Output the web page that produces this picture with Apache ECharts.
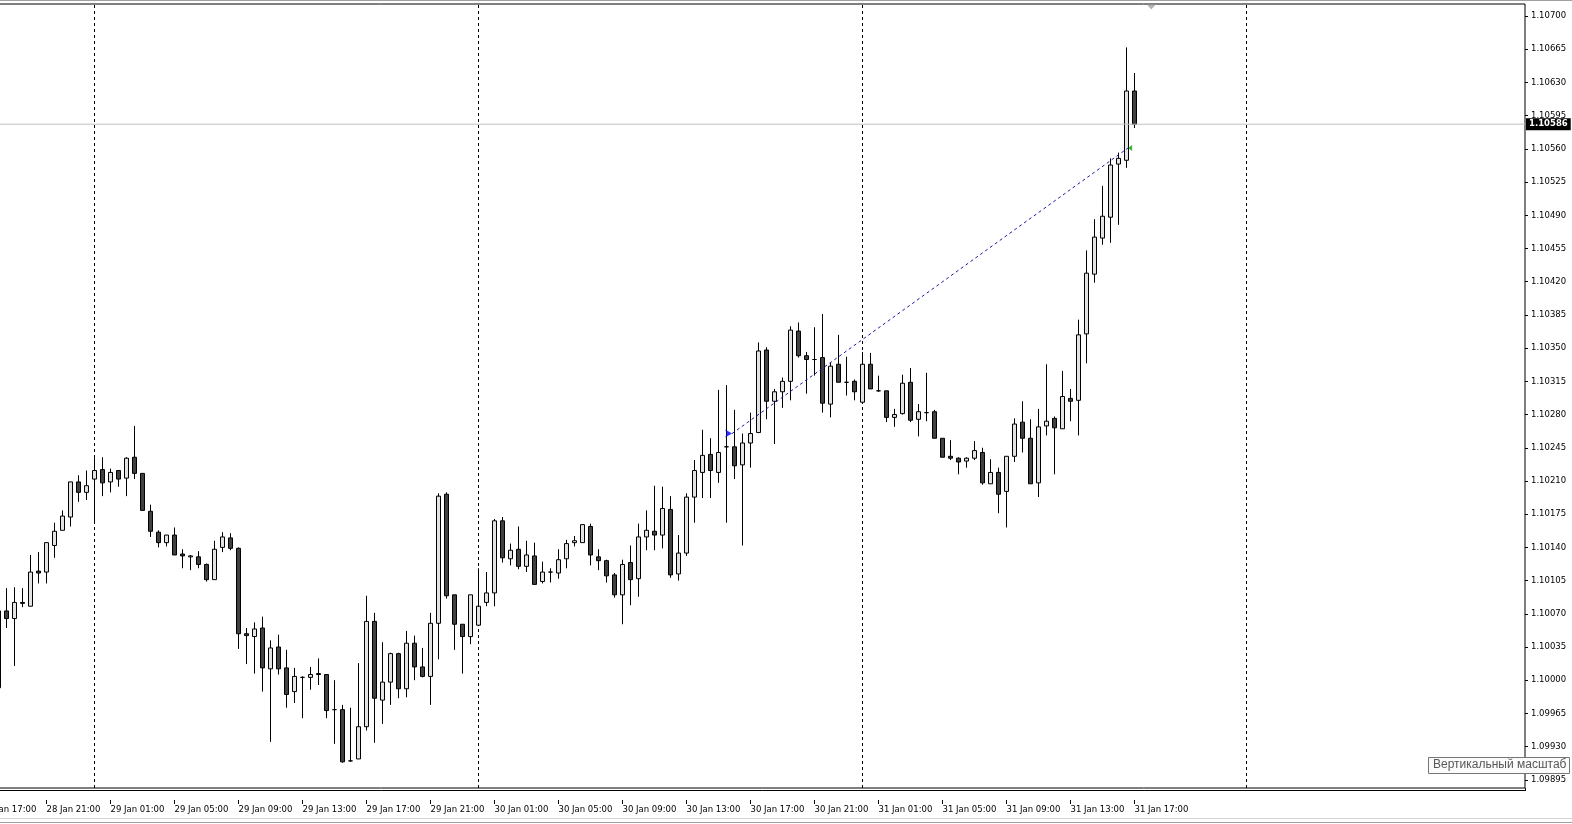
<!DOCTYPE html>
<html><head><meta charset="utf-8">
<script src="https://cdn.jsdelivr.net/npm/echarts@6/dist/echarts.min.js"></script>
<style>html,body{margin:0;padding:0;background:#fff;}#c{width:1572px;height:824px;}</style>
</head><body><div id="c"></div>
<script>
// Bars are M30; bar number 0 = 29 Jan 00:00, first visible bar = 28 Jan 18:00
const firstBar = -12;
const opens = [1.09992,1.10073,1.10065,1.10082,1.10078,1.10115,1.10114,1.10142,1.10158,1.10172,1.10209,1.10198,
1.10212,1.10222,1.10209,1.10221,1.10213,1.10235,1.10218,1.10178,1.10156,1.10145,1.10153,1.10133,1.10130,1.10130,1.10122,1.10106,1.10140,1.10150,1.10139,1.10049,
1.10046,1.10055,1.10012,1.10035,1.10013,1.09988,1.10003,1.10003,1.10007,1.10006,1.09969,1.09969,1.09915,1.09917,1.09951,1.10062,
1.09979,1.09998,1.10028,1.09991,1.10039,1.10014,1.10004,1.10060,1.10196,1.10090,1.10059,1.10046,1.10058,1.10082,1.10092,1.10168,
1.10128,1.10138,1.10120,1.10131,1.10104,1.10114,1.10113,1.10128,1.10145,1.10145,1.10162,1.10130,1.10126,1.10111,1.10090,1.10124,
1.10107,1.10151,1.10157,1.10153,1.10180,1.10112,1.10134,1.10193,1.10219,1.10238,1.10219,1.10246,1.10246,1.10227,1.10250,1.10261,
1.10348,1.10294,1.10304,1.10315,1.10368,1.10342,1.10338,1.10340,1.10291,1.10333,1.10314,1.10315,1.10293,1.10333,1.10305,1.10305,
1.10277,1.10281,1.10314,1.10275,1.10282,1.10283,1.10255,1.10236,1.10234,1.10231,1.10234,1.10240,1.10207,1.10219,1.10199,1.10236,
1.10272,1.10255,1.10208,1.10268,1.10276,1.10265,1.10297,1.10295,1.10365,1.10428,1.10466,1.10488,1.10544,1.10548,1.10621];
const closes = [1.10073,1.10065,1.10082,1.10081,1.10114,1.10113,1.10145,1.10157,1.10173,1.10209,1.10198,1.10205,
1.10221,1.10208,1.10219,1.10212,1.10234,1.10218,1.10179,1.10157,1.10145,1.10153,1.10132,1.10131,1.10131,1.10122,1.10106,1.10138,1.10151,1.10139,1.10049,1.10047,
1.10054,1.10013,1.10034,1.10012,1.09985,1.10004,1.10003,1.10006,1.10006,1.09968,1.09969,1.09914,1.09915,1.09951,1.10062,1.09981,
1.09998,1.10028,1.09991,1.10039,1.10014,1.10004,1.10060,1.10194,1.10089,1.10059,1.10046,1.10090,1.10078,1.10092,1.10168,1.10129,
1.10137,1.10120,1.10132,1.10101,1.10114,1.10114,1.10127,1.10144,1.10147,1.10164,1.10132,1.10126,1.10110,1.10090,1.10122,1.10106,
1.10151,1.10158,1.10153,1.10181,1.10111,1.10134,1.10193,1.10221,1.10237,1.10221,1.10240,1.10246,1.10226,1.10250,1.10260,1.10347,
1.10294,1.10304,1.10315,1.10369,1.10342,1.10338,1.10338,1.10292,1.10331,1.10314,1.10314,1.10304,1.10333,1.10307,1.10305,1.10277,
1.10280,1.10313,1.10274,1.10283,1.10282,1.10255,1.10235,1.10234,1.10230,1.10234,1.10242,1.10208,1.10219,1.10196,1.10236,1.10270,
1.10255,1.10207,1.10267,1.10273,1.10266,1.10299,1.10294,1.10364,1.10429,1.10467,1.10489,1.10543,1.10550,1.10621,1.10586];
const lows = [1.09990,1.10055,1.10015,1.10077,1.10078,1.10102,1.10102,1.10129,1.10158,1.10162,1.10188,1.10190,
1.10167,1.10194,1.10198,1.10204,1.10194,1.10212,1.10179,1.10151,1.10140,1.10141,1.10132,1.10118,1.10116,1.10118,1.10104,1.10106,1.10135,1.10137,1.10033,1.10017,
1.10007,1.09988,1.09935,1.10006,1.09971,1.09976,1.09960,1.09990,1.09995,1.09960,1.09933,1.09913,1.09914,1.09917,1.09947,1.09934,
1.09954,1.09974,1.09981,1.09982,1.10000,1.10003,1.09974,1.10022,1.10086,1.10032,1.10007,1.10038,1.10057,1.10078,1.10078,1.10124,
1.10121,1.10117,1.10114,1.10101,1.10102,1.10103,1.10107,1.10118,1.10141,1.10145,1.10121,1.10116,1.10103,1.10087,1.10059,1.10079,
1.10088,1.10137,1.10137,1.10139,1.10108,1.10105,1.10131,1.10166,1.10192,1.10192,1.10208,1.10166,1.10212,1.10142,1.10224,1.10261,
1.10275,1.10249,1.10287,1.10295,1.10340,1.10302,1.10321,1.10282,1.10277,1.10314,1.10300,1.10295,1.10293,1.10307,1.10304,1.10272,
1.10267,1.10280,1.10272,1.10257,1.10273,1.10255,1.10235,1.10232,1.10217,1.10224,1.10232,1.10206,1.10207,1.10176,1.10161,1.10230,
1.10240,1.10207,1.10193,1.10258,1.10217,1.10265,1.10273,1.10258,1.10334,1.10419,1.10459,1.10461,1.10480,1.10540,1.10582];
const highs = [1.10079,1.10097,1.10098,1.10097,1.10132,1.10135,1.10145,1.10166,1.10179,1.10209,1.10216,1.10221,
1.10234,1.10235,1.10223,1.10221,1.10235,1.10268,1.10218,1.10185,1.10158,1.10153,1.10161,1.10138,1.10132,1.10136,1.10123,1.10147,1.10156,1.10155,1.10140,1.10055,
1.10061,1.10067,1.10042,1.10048,1.10032,1.10013,1.10004,1.10014,1.10023,1.10006,1.10000,1.09974,1.09971,1.10018,1.10089,1.10071,
1.10040,1.10029,1.10029,1.10052,1.10047,1.10034,1.10071,1.10197,1.10198,1.10090,1.10059,1.10090,1.10118,1.10114,1.10170,1.10172,
1.10144,1.10162,1.10147,1.10145,1.10125,1.10118,1.10138,1.10148,1.10152,1.10164,1.10165,1.10138,1.10127,1.10113,1.10127,1.10142,
1.10165,1.10179,1.10205,1.10204,1.10194,1.10153,1.10197,1.10232,1.10264,1.10255,1.10306,1.10311,1.10285,1.10260,1.10282,1.10356,
1.10351,1.10307,1.10319,1.10373,1.10377,1.10346,1.10372,1.10386,1.10335,1.10364,1.10341,1.10317,1.10346,1.10345,1.10321,1.10305,
1.10286,1.10322,1.10329,1.10291,1.10324,1.10285,1.10255,1.10253,1.10235,1.10235,1.10252,1.10245,1.10233,1.10224,1.10236,1.10276,
1.10294,1.10275,1.10286,1.10333,1.10278,1.10326,1.10307,1.10380,1.10453,1.10486,1.10521,1.10550,1.10556,1.10667,1.10640];

const xTickBars = [-14,-6,2,10,18,26,34,42,50,58,66,74,82,90,98,106,114,122,130];
const xTickLabels = ['28 Jan 17:00','28 Jan 21:00','29 Jan 01:00','29 Jan 05:00','29 Jan 09:00','29 Jan 13:00','29 Jan 17:00','29 Jan 21:00','30 Jan 01:00','30 Jan 05:00','30 Jan 09:00','30 Jan 13:00','30 Jan 17:00','30 Jan 21:00','31 Jan 01:00','31 Jan 05:00','31 Jan 09:00','31 Jan 13:00','31 Jan 17:00'];
const yTicks = [1.09895,1.09930,1.09965,1.10000,1.10035,1.10070,1.10105,1.10140,1.10175,1.10210,1.10245,1.10280,1.10315,1.10350,1.10385,1.10420,1.10455,1.10490,1.10525,1.10560,1.10595,1.10630,1.10665,1.10700];
const daySeparatorBars = [0, 48, 96, 144];
const bidPrice = 1.10586;
const tradeBars = [79.7, 129.2];
const tradePrices = [1.10260, 1.10561];
const chartShiftBar = 132.1;

const candleData = opens.map((o, j) => [firstBar + j, o, closes[j], lows[j], highs[j]]);
const FONT = 'DejaVu Sans';

const X_MIN = -14.5625, X_MAX = 178.8125;
const Y_MIN = 1.098864, Y_MAX = 1.107127;
const chart = echarts.init(document.getElementById('c'), null, {renderer: 'canvas'});
chart.setOption({
  animation: false,
  backgroundColor: '#ffffff',
  textStyle: {fontFamily: FONT},
  grid: {left: -22, top: 4, width: 1547, height: 784, show: true, borderColor: '#000', borderWidth: 1, backgroundColor: '#fff',
    containLabel: false, outerBoundsMode: 'none'},
  xAxis: {
    type: 'value', min: X_MIN, max: X_MAX, offset: 12,
    splitLine: {show: false}, axisLine: {show: false, onZero: false},
    axisTick: {show: true, customValues: xTickBars, length: 4, lineStyle: {color: '#000', width: 1}},
    axisLabel: {customValues: xTickBars, align: 'left', margin: 5, fontSize: 8.5, color: '#000', fontFamily: FONT,
      formatter: v => { const j = xTickBars.indexOf(Math.round(v)); return j >= 0 ? xTickLabels[j] : ''; }}
  },
  yAxis: {
    type: 'value', position: 'right', min: Y_MIN, max: Y_MAX, scale: true,
    splitLine: {show: false}, axisLine: {show: false, onZero: false},
    axisTick: {show: true, customValues: yTicks, length: 3, lineStyle: {color: '#000'}},
    axisLabel: {customValues: yTicks, margin: 6, fontSize: 8.5, color: '#000', fontFamily: FONT, formatter: v => v.toFixed(5)}
  },
  series: [
    {
      type: 'line', z: 1, data: [], symbol: 'none', silent: true,
      markLine: {
        z: 1, silent: true, symbol: 'none', animation: false,
        label: {show: false},
        lineStyle: {color: '#000', type: [3, 3], width: 1},
        data: daySeparatorBars.map(b => ({xAxis: b}))
      }
    },
    {
      type: 'candlestick', z: 2, data: candleData, barWidth: 5,
      itemStyle: {color: '#e3e3e3', color0: '#404040', borderColor: '#000', borderColor0: '#000', borderColorDoji: '#000', borderWidth: 1}
    },
    {
      // current Bid price line across the chart
      type: 'line', z: 3, silent: true, symbol: 'none', clip: false,
      data: [[X_MIN, bidPrice], [X_MAX, bidPrice]],
      lineStyle: {color: '#c0c0c0', width: 1, type: 'solid'},
      endLabel: {show: true, formatter: bidPrice.toFixed(5), distance: 1, backgroundColor: '#000', color: '#fff',
        fontFamily: FONT, fontSize: 8.5, fontWeight: 'bold', padding: [2, 3, 1, 3]}
    },
    {
      type: 'line', z: 4, silent: true, symbol: 'none',
      data: tradeBars.map((b, j) => [b, tradePrices[j]]),
      lineStyle: {color: '#1a1aa8', width: 1, type: [3, 3]}
    },
    {
      type: 'scatter', z: 5, silent: true,
      data: [
        {value: [tradeBars[0], tradePrices[0]], symbol: 'arrow', symbolRotate: -90, symbolSize: [6, 7], itemStyle: {color: '#0000ff'}},
        {value: [tradeBars[1], tradePrices[1]], symbol: 'triangle', symbolRotate: 90, symbolSize: [6, 4], symbolOffset: [2, 0], itemStyle: {color: '#00a000'}},
        {value: [chartShiftBar, Y_MAX], symbol: 'triangle', symbolRotate: 180, symbolSize: [9, 5], symbolOffset: [0, 3], itemStyle: {color: '#a0a0a0'}}
      ]
    }
  ],
  graphic: [
    {type: 'line', silent: true, shape: {x1: 0, y1: 0.5, x2: 1572, y2: 0.5}, style: {stroke: '#a0a0a0', lineWidth: 1}},
    {type: 'line', silent: true, shape: {x1: 0, y1: 790.5, x2: 1525.5, y2: 790.5}, style: {stroke: '#000', lineWidth: 1}},
    {type: 'line', silent: true, shape: {x1: 1525.5, y1: 788, x2: 1525.5, y2: 791}, style: {stroke: '#000', lineWidth: 1}},
    {type: 'line', silent: true, shape: {x1: 0, y1: 818.5, x2: 1572, y2: 818.5}, style: {stroke: '#d4d4d4', lineWidth: 1}},
    {type: 'line', silent: true, shape: {x1: 0, y1: 822.5, x2: 1572, y2: 822.5}, style: {stroke: '#a0a0a0', lineWidth: 1}},
    {type: 'rect', silent: true, z: 100, shape: {x: 1428.5, y: 757.5, width: 141, height: 16}, style: {fill: '#fbfbfb', stroke: '#767676', lineWidth: 1}},
    {type: 'text', silent: true, z: 101, x: 1433, y: 759, style: {text: 'Вертикальный масштаб', fill: '#575757', font: '12px "Liberation Sans"'}}
  ]
});
</script>
</body></html>
